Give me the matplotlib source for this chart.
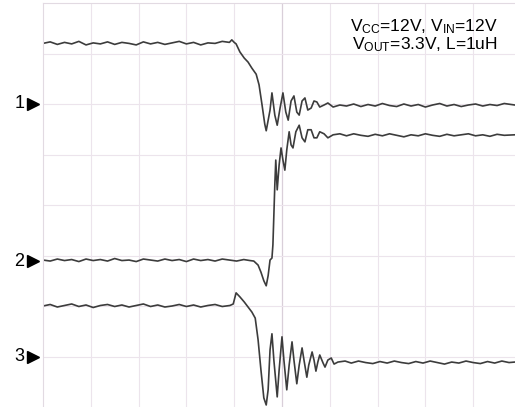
import numpy as np
import matplotlib.pyplot as plt

plt.rcParams['font.family'] = ['Liberation Sans', 'DejaVu Sans']
plt.rcParams['mathtext.fontset'] = 'custom'
plt.rcParams['mathtext.rm'] = 'Liberation Sans'
plt.rcParams['mathtext.it'] = 'Liberation Sans'

# time in divisions, amplitude in divisions
ch1_t = [0.00, 0.15, 0.30, 0.45, 0.60, 0.75, 0.90, 1.05, 1.20, 1.35, 1.50, 1.65, 1.80, 1.95,
         2.10, 2.25, 2.40, 2.55, 2.70, 2.85, 3.00, 3.15, 3.30, 3.45, 3.60, 3.75, 3.90, 3.95,
         4.00, 4.04, 4.12, 4.21, 4.29, 4.37, 4.46, 4.52, 4.58, 4.64, 4.67, 4.75, 4.79, 4.85,
         4.90, 4.96, 5.02, 5.08, 5.13, 5.19, 5.25, 5.31, 5.36, 5.42, 5.48, 5.54, 5.61, 5.67,
         5.73, 5.79, 5.88, 5.96, 6.07, 6.21, 6.35, 6.50, 6.65, 6.80, 6.95, 7.10, 7.25, 7.40,
         7.55, 7.70, 7.85, 8.00, 8.15, 8.30, 8.45, 8.60, 8.75, 8.90, 9.05, 9.20, 9.35, 9.50,
         9.65, 9.87]
ch1_v = [7.20, 7.23, 7.18, 7.22, 7.19, 7.24, 7.17, 7.21, 7.19, 7.23, 7.18, 7.22, 7.20, 7.17,
         7.23, 7.19, 7.22, 7.18, 7.21, 7.24, 7.19, 7.22, 7.17, 7.21, 7.20, 7.24, 7.22, 7.27,
         7.22, 7.19, 7.03, 6.91, 6.83, 6.71, 6.59, 6.38, 6.00, 5.60, 5.47, 5.88, 6.22, 5.78,
         5.58, 5.92, 6.22, 5.84, 5.68, 6.06, 6.16, 5.84, 5.78, 6.06, 6.12, 5.88, 5.92, 6.06,
         6.04, 5.94, 5.98, 6.02, 5.94, 5.98, 5.96, 6.00, 5.95, 5.99, 5.96, 6.01, 5.97, 5.95,
         6.00, 5.96, 5.99, 5.94, 5.98, 6.01, 5.96, 5.99, 5.95, 5.98, 6.00, 5.96, 5.99, 5.97,
         6.01, 5.98]

ch2_t = [0.00, 0.15, 0.30, 0.45, 0.60, 0.75, 0.90, 1.05, 1.20, 1.35, 1.50, 1.65, 1.80, 1.95,
         2.10, 2.25, 2.40, 2.55, 2.70, 2.85, 3.00, 3.15, 3.30, 3.45, 3.60, 3.75, 3.90, 4.05,
         4.20, 4.33, 4.41, 4.50, 4.56, 4.62, 4.67, 4.71, 4.75, 4.79, 4.81, 4.83, 4.85, 4.87,
         4.90, 4.94, 4.98, 5.02, 5.06, 5.10, 5.15, 5.19, 5.23, 5.29, 5.36, 5.42, 5.48, 5.54,
         5.61, 5.67, 5.73, 5.79, 5.88, 5.96, 6.07, 6.21, 6.35, 6.50, 6.65, 6.80, 6.95, 7.10,
         7.25, 7.40, 7.55, 7.70, 7.85, 8.00, 8.15, 8.30, 8.45, 8.60, 8.75, 8.90, 9.05, 9.20,
         9.35, 9.50, 9.65, 9.87]
ch2_v = [2.91, 2.89, 2.93, 2.90, 2.92, 2.88, 2.93, 2.90, 2.92, 2.89, 2.94, 2.90, 2.91, 2.88,
         2.93, 2.91, 2.89, 2.93, 2.90, 2.92, 2.88, 2.93, 2.90, 2.92, 2.89, 2.93, 2.91, 2.89,
         2.92, 2.90, 2.89, 2.81, 2.67, 2.50, 2.40, 2.60, 2.91, 2.95, 3.21, 3.80, 4.40, 4.89,
         4.30, 4.79, 5.13, 4.89, 4.69, 5.09, 5.45, 5.19, 5.13, 5.45, 5.58, 5.33, 5.25, 5.49,
         5.49, 5.33, 5.33, 5.45, 5.41, 5.33, 5.39, 5.41, 5.37, 5.41, 5.38, 5.36, 5.40, 5.37,
         5.41, 5.38, 5.35, 5.39, 5.37, 5.41, 5.38, 5.36, 5.40, 5.37, 5.39, 5.41, 5.37, 5.39,
         5.36, 5.40, 5.38, 5.39]

ch3_t = [0.00, 0.15, 0.30, 0.45, 0.60, 0.75, 0.90, 1.05, 1.20, 1.35, 1.50, 1.65, 1.80, 1.95,
         2.10, 2.25, 2.40, 2.55, 2.70, 2.85, 3.00, 3.15, 3.30, 3.45, 3.60, 3.75, 3.91, 3.98,
         4.04, 4.12, 4.21, 4.29, 4.37, 4.44, 4.50, 4.56, 4.62, 4.67, 4.71, 4.75, 4.79, 4.83,
         4.90, 4.94, 5.00, 5.04, 5.10, 5.15, 5.21, 5.25, 5.31, 5.36, 5.42, 5.46, 5.52, 5.56,
         5.63, 5.67, 5.71, 5.75, 5.79, 5.86, 5.90, 5.96, 6.03, 6.09, 6.17, 6.32, 6.45, 6.60,
         6.75, 6.90, 7.05, 7.20, 7.35, 7.50, 7.65, 7.80, 7.95, 8.10, 8.25, 8.40, 8.55, 8.70,
         8.85, 9.00, 9.15, 9.30, 9.45, 9.60, 9.75, 9.87]
ch3_v = [2.00, 2.03, 1.98, 2.01, 2.04, 1.99, 2.02, 1.97, 2.01, 2.03, 1.99, 2.02, 1.98, 2.01,
         2.04, 1.99, 2.02, 1.98, 2.00, 2.03, 1.99, 2.02, 1.98, 2.01, 2.03, 1.99, 2.01, 2.04,
         2.26, 2.18, 2.08, 1.98, 1.88, 1.76, 1.33, 0.73, 0.18, 0.04, 0.34, 1.13, 1.45, 0.93,
         0.20, 0.73, 1.39, 0.93, 0.34, 0.83, 1.29, 0.93, 0.46, 0.83, 1.17, 0.93, 0.59, 0.83,
         1.09, 0.93, 0.71, 0.89, 1.03, 0.87, 0.79, 0.93, 0.97, 0.85, 0.89, 0.91, 0.87, 0.91,
         0.88, 0.86, 0.90, 0.87, 0.91, 0.88, 0.86, 0.90, 0.87, 0.91, 0.88, 0.85, 0.89, 0.87,
         0.91, 0.88, 0.86, 0.90, 0.87, 0.91, 0.88, 0.89]

marker_labels = ['1', '2', '3']
marker_levels = [6.0, 2.89, 1.0]
note = 'V$_{\\mathrm{CC}}$=12V, V$_{\\mathrm{IN}}$=12V\nV$_{\\mathrm{OUT}}$=3.3V, L=1uH'

fig = plt.figure(figsize=(5.15, 4.07), dpi=100)
ax = fig.add_axes([43 / 515, 0, 472 / 515, 404 / 407])
ax.set_xlim(0, 9.875)
ax.set_ylim(0, 8)

for k in range(1, 10):
    ax.axvline(k, color='#d9cfd9' if k == 5 else '#ece4ec', lw=0.9 if k == 5 else 0.8, zorder=0)
for k in range(1, 8):
    ax.axhline(k, color='#ece4ec', lw=0.8, zorder=0)

tc = '#3c3c3c'
ax.plot(ch1_t, ch1_v, color=tc, lw=1.2)
ax.plot(ch2_t, ch2_v, color=tc, lw=1.2)
ax.plot(ch3_t, ch3_v, color=tc, lw=1.2)

for s in ['right', 'bottom']:
    ax.spines[s].set_visible(False)
for s in ['left', 'top']:
    ax.spines[s].set_color('#e2dae2')
ax.set_xticks([])
ax.set_yticks([])

trans = ax.get_yaxis_transform()
for lab, lev in zip(marker_labels, marker_levels):
    ax.text(-0.05, lev, lab, transform=trans, ha='center', va='center', fontsize=13)
    ax.plot([-0.021], [lev], marker='>', ms=8.5, color='black', transform=trans, clip_on=False)

ax.text(0.963, 0.965, note, transform=ax.transAxes, ha='right', va='top', fontsize=12.5,
        linespacing=0.95)

fig.savefig('out.png', dpi=100)
